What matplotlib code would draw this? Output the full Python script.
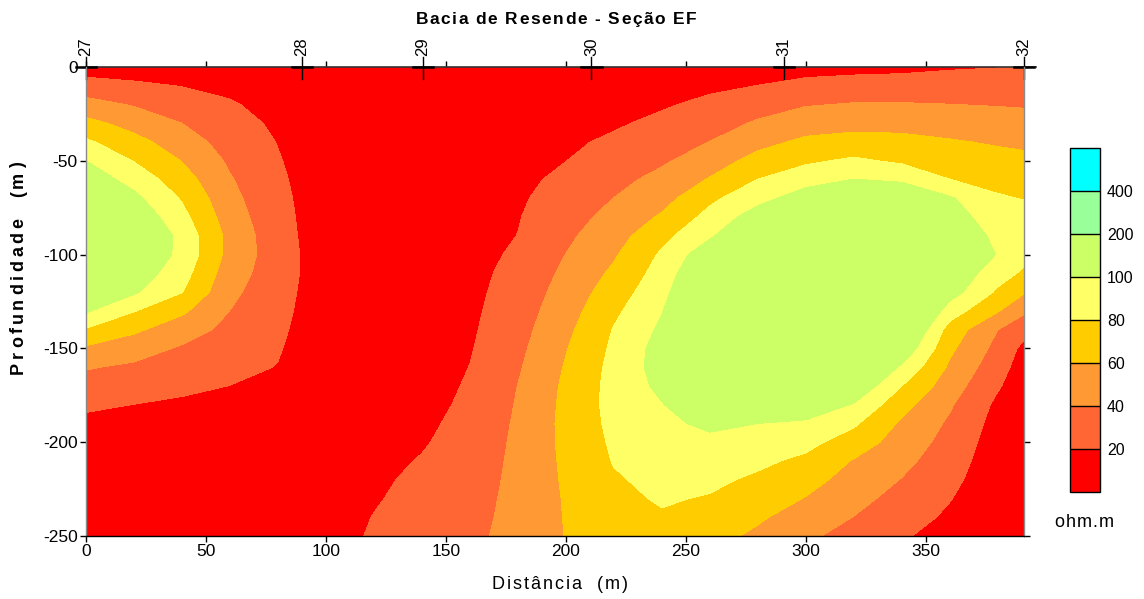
import numpy as np
import matplotlib
matplotlib.use("Agg")
import matplotlib.pyplot as plt
from matplotlib.transforms import blended_transform_factory
from matplotlib.font_manager import FontProperties

plt.rcParams['font.family'] = ['Liberation Sans', 'DejaVu Sans']

# Grid nodes of the resistivity section
distance_m = [0, 20, 40, 60, 80, 100, 120, 140, 160, 180, 200,
              220, 240, 260, 280, 300, 320, 340, 360, 380, 391]
depth_m = np.arange(0, -251, -10)

# Apparent resistivity (ohm.m); one depth profile (0 to -250 m) per distance node
rho_profiles = [
    [10, 28.3, 47, 65.8, 83.3, 100, 112.5, 125, 137.5, 150, 138, 126, 114, 102.4, 78, 57, 41.5, 32, 23.5, 15, 10, 8, 6, 5, 5, 5],
    [9, 23.7, 38.5, 52.9, 66.4, 79.2, 92.5, 105, 116, 127.7, 122, 112, 102.5, 81, 63.5, 48.6, 36.7, 28.3, 19.8, 14, 10, 7, 5, 5, 5, 5],
    [9, 19.4, 29.7, 40, 49.7, 59.4, 68.8, 78.1, 86, 93.5, 94, 88, 80.5, 63.5, 49, 37.7, 30.8, 23.9, 17, 12, 9, 7, 6, 5, 5, 5],
    [11.3, 16.4, 21.5, 26.7, 31.8, 36.9, 41.6, 45.7, 49.8, 54, 53.7, 49, 44.4, 39.8, 34.8, 29.9, 24.9, 19.8, 16, 13, 10, 8, 7, 6, 6, 6],
    [10, 12.3, 14.7, 17, 19.4, 21.2, 22.8, 24.4, 26, 27.6, 29.2, 29, 27.1, 25.2, 23.2, 21.3, 19.4, 17.5, 15.5, 14, 12, 10, 9, 8, 8, 8],
    [8, 8, 8, 8, 8, 9, 10, 10, 9.5, 9, 9, 9, 9, 9, 9, 8.5, 8.5, 9, 9, 9.5, 10, 10.5, 11, 11.5, 12, 12.5],
    [7, 7, 7, 7, 7, 7, 7, 7, 7, 7, 7, 7, 7, 7, 7, 7.5, 9, 10, 11, 12.5, 14, 15.5, 17, 18.5, 20.5, 22],
    [7, 7, 7, 7, 7, 7, 7, 7, 7, 7, 7, 7, 7, 7, 7, 8, 10, 12, 14, 16.5, 18.5, 21, 23.5, 25.5, 27.5, 29],
    [6, 6.5, 7, 7.5, 8, 9, 10, 11, 12, 13, 14, 15, 15.5, 16.3, 17.3, 18.6, 20.3, 22, 23.6, 25.2, 26.8, 28.5, 30, 31.7, 33.3, 35],
    [8, 9, 10, 11.5, 13, 14.5, 16, 17.5, 19, 20.25, 22.75, 25.25, 27.75, 30.25, 32.75, 35.25, 37.75, 40.2, 41.5, 42.8, 43.8, 44.6, 45.3, 46, 46.6, 47.3],
    [10, 11.5, 13, 15, 17, 19.8, 23.75, 27.9, 32.1, 36.25, 40.2, 44.1, 47.8, 51.5, 55.2, 58.9, 61.5, 63.5, 64.5, 65, 64.5, 63.5, 62.5, 61.5, 61, 60.5],
    [10, 12.5, 15, 17.8, 22.9, 28.6, 34.3, 40.2, 45.9, 51.8, 57.6, 63.6, 69.7, 75.8, 81, 83.5, 85.5, 86.5, 86.5, 85, 83, 81, 78, 75, 73, 71],
    [11, 14, 18, 24, 30.7, 37.3, 45.5, 52.7, 62.4, 74, 82.7, 88, 93.3, 98.9, 103.5, 108, 108.5, 104.5, 99, 95.5, 92, 88.5, 85, 82, 78, 75],
    [12, 16.7, 24, 32, 40.2, 50.5, 61.4, 75.7, 86.4, 96.8, 114, 125, 132, 138, 140, 140, 136, 128, 117, 104, 95.4, 89.7, 84, 78.5, 73, 67],
    [12, 20.2, 31, 42.4, 54, 66.7, 80.2, 93.3, 110, 127, 140, 150, 157, 160, 158, 152, 143, 130, 116, 100, 92, 84, 76.6, 69.7, 62.8, 56],
    [13, 25.3, 38.7, 50.9, 64, 76.7, 92.3, 110, 128, 143, 155, 164, 169, 170, 167, 160, 148, 132, 114, 96.7, 85.6, 75.7, 67, 59.2, 50.6, 42],
    [14, 28, 41.25, 54, 66.7, 83.3, 100.5, 117, 133, 147, 158, 166, 170, 168, 160, 148, 133, 117, 98.5, 83, 70.6, 58.7, 52.3, 45.8, 39.6, 36],
    [15, 29, 41.25, 53.75, 65.5, 76.7, 97, 118, 134, 147, 156, 159, 155, 145, 131, 116, 96.7, 80.2, 66.7, 57, 51.2, 45.3, 39.3, 33.6, 27.8, 22],
    [18, 29.4, 40.2, 51, 61.8, 71, 80.2, 102.5, 110, 117, 120, 116, 109, 90, 72, 64, 57, 49.4, 42.2, 37.1, 33.1, 29, 24.9, 20.8, 17, 13],
    [19.5, 29.5, 39, 48.6, 58, 66.4, 74.4, 82, 88.5, 95, 99, 88.4, 76.9, 61.5, 40.2, 34, 28, 22, 16, 13, 10.5, 9, 8, 7, 6.5, 6],
    [21, 30.9, 38.2, 47.3, 56.4, 64.4, 71.9, 79.3, 86, 90, 86.7, 76.7, 61.7, 43.3, 26.7, 15, 11, 9, 8, 7, 7, 7, 7, 7, 7, 7],
]

# Colour classes (ohm.m)
class_levels = [0, 20, 40, 60, 80, 100, 200, 400, 800]
class_colors = ['#FF0000', '#FF6633', '#FF9933', '#FFCC00',
                '#FFFF66', '#CCFF66', '#99FF99', '#00FFFF']
cbar_ticks = [20, 40, 60, 80, 100, 200, 400]

# Survey stations along the profile
station_x = [0, 90, 140.4, 210.7, 291, 391]
station_labels = ['27', '28', '29', '30', '31', '32']

x_ticks = [0, 50, 100, 150, 200, 250, 300, 350]
y_ticks = [0, -50, -100, -150, -200, -250]
y_tick_labels = ['0', '-50', '-100', '-150', '-200', '-250']

W, H = 1144, 599
fig = plt.figure(figsize=(W / 100, H / 100), dpi=100)
renderer = fig.canvas.get_renderer()


def tracked_text(s, cx, cy_base, size, tracking, weight='normal', vertical=False):
    """Draw s centred on cx (pixels) with extra letter spacing; cy_base is the baseline."""
    fp = FontProperties(family=['Liberation Sans'], size=size, weight=weight)

    def w(t):
        return renderer.get_text_width_height_descent(t, fp, ismath=False)[0]

    base = w('XX')
    adv = [w('X' + ch + 'X') - base for ch in s]
    total = sum(adv) + tracking * (len(s) - 1)
    pos = -total / 2
    for ch, a in zip(s, adv):
        if ch != ' ':
            if vertical:
                fig.text(cy_base / W, 1 - (cx - pos) / H, ch, fontproperties=fp,
                         rotation=90, rotation_mode='anchor', ha='left', va='baseline')
            else:
                fig.text((cx + pos) / W, 1 - cy_base / H, ch, fontproperties=fp,
                         ha='left', va='baseline')
        pos += a + tracking


ax_l, ax_r, ax_t, ax_b = 86, 1024, 67, 536
ax = fig.add_axes([ax_l / W, 1 - ax_b / H, (ax_r - ax_l) / W, (ax_b - ax_t) / H])

rho = np.array(rho_profiles).T
cs = ax.contourf(distance_m, depth_m, rho, levels=class_levels, colors=class_colors)

ax.set_xlim(0, 391)
ax.set_ylim(-250, 0)
ax.set_xticks(x_ticks)
ax.set_xticklabels([str(v) for v in x_ticks])
ax.set_yticks(y_ticks)
ax.set_yticklabels(y_tick_labels)
ax.tick_params(axis='both', direction='out', length=4, width=1, labelsize=12.5,
               pad=2, colors='black')
ax.tick_params(axis='x', top=True, labeltop=False)
ax.tick_params(axis='y', right=True, labelright=False)

ax.spines['top'].set_visible(False)
ax.spines['left'].set_color('#8a8a8a')
ax.spines['right'].set_color('#8a8a8a')
ax.spines['bottom'].set_color('black')
for s in ax.spines.values():
    s.set_linewidth(1.0)

trans = blended_transform_factory(ax.transData, ax.transAxes)
px = 1.0 / (ax_b - ax_t)
# top profile line, slightly longer than the section
ax.plot([0, 396], [1, 1], transform=trans, color='#333333', lw=1.2, clip_on=False)
for sx, lab in zip(station_x, station_labels):
    ax.plot([sx, sx], [1 + 10 * px, 1 - 12 * px], transform=trans,
            color='black', lw=1.0, clip_on=False)
    ax.plot([sx - 4.2, sx + 4.2], [1, 1], transform=trans,
            color='black', lw=1.8, clip_on=False)
    ax.text(sx, 1 + 11 * px, lab, transform=trans, rotation=90,
            ha='center', va='bottom', fontsize=12)

# Colour scale
cax = fig.add_axes([1070 / W, 1 - 492 / H, 30 / W, (492 - 148) / H])
cb = fig.colorbar(cs, cax=cax, ticks=cbar_ticks, spacing='uniform', drawedges=True)
cb.ax.set_yticklabels([str(v) for v in cbar_ticks])
cb.ax.tick_params(length=0, pad=5, labelsize=11.5)
cb.outline.set_linewidth(1.0)
cb.dividers.set_linewidth(1.0)
cb.dividers.set_color('black')

tracked_text('ohm.m', 1084, 527, 13, 1.0)
tracked_text('Bacia de Resende - Seção EF', 556, 24, 12.5, 1.5, weight='bold')
tracked_text('Profundidade  (m)', 268, 23, 13, 3.6, weight='bold', vertical=True)
tracked_text('Distância  (m)', 560, 589, 13, 1.9)

fig.savefig('out.png', dpi=100)
